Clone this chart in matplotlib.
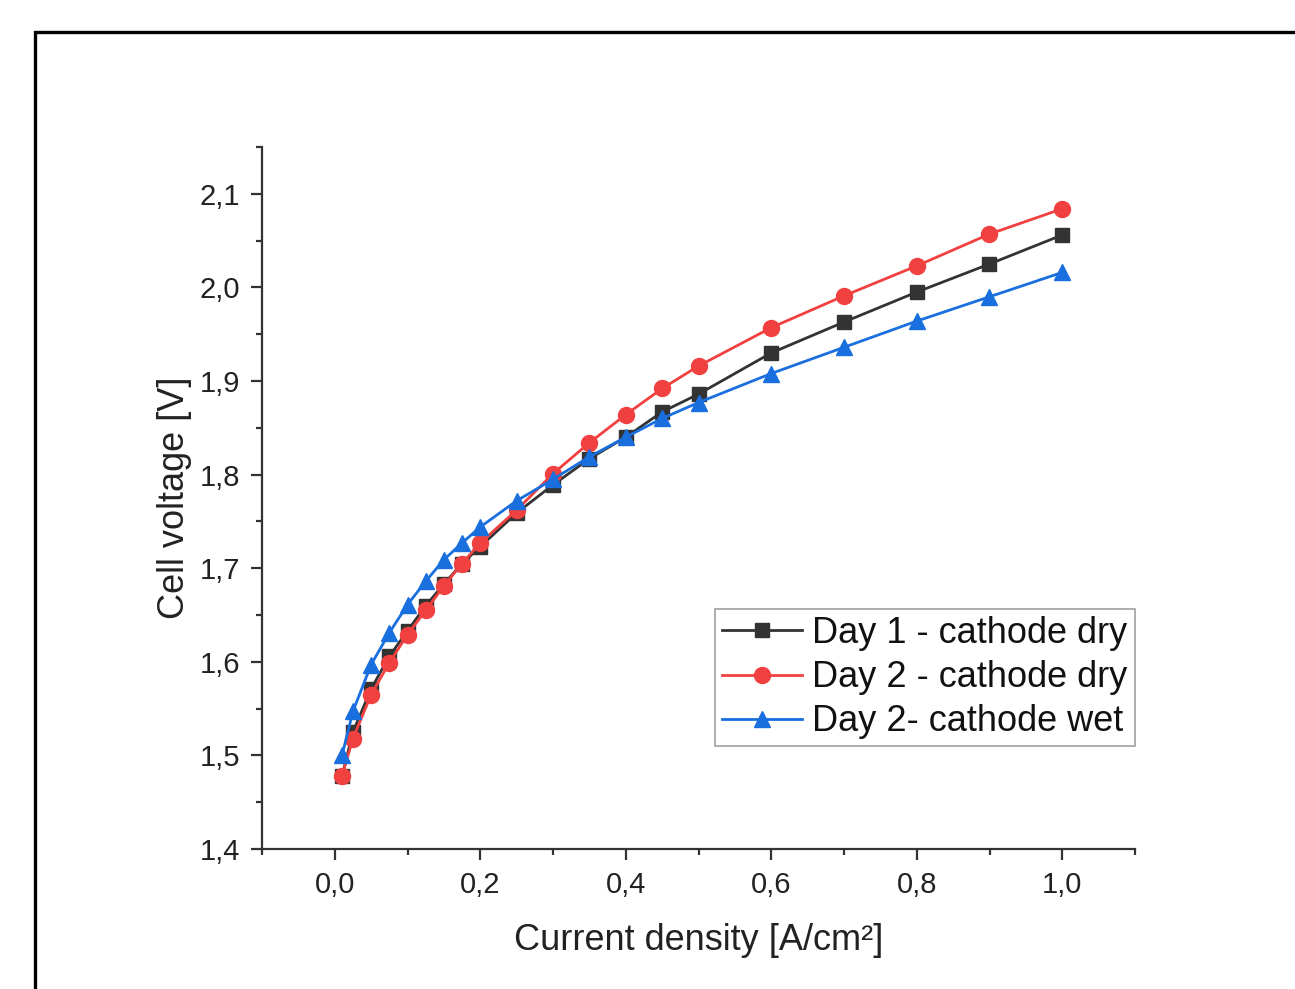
import matplotlib
matplotlib.use("Agg")
import matplotlib.pyplot as plt
from matplotlib.patches import Rectangle
from matplotlib.ticker import MultipleLocator, FuncFormatter

plt.rcParams["font.family"] = ["Liberation Sans", "DejaVu Sans"]

# ── Données ──────────────────────────────────────────────────────────────────
current = [0.01, 0.025, 0.05, 0.075, 0.1, 0.125, 0.15, 0.175, 0.2, 0.25,
           0.3, 0.35, 0.4, 0.45, 0.5, 0.6, 0.7, 0.8, 0.9, 1.0]

day1_dry = [1.478, 1.525, 1.571, 1.606, 1.633, 1.660, 1.683, 1.705, 1.723, 1.759,
            1.789, 1.817, 1.840, 1.867, 1.886, 1.930, 1.963, 1.995, 2.025, 2.056]

day2_dry = [1.478, 1.518, 1.565, 1.599, 1.629, 1.655, 1.681, 1.705, 1.727, 1.762,
            1.801, 1.834, 1.864, 1.892, 1.916, 1.957, 1.991, 2.023, 2.057, 2.084]

day2_wet = [1.500, 1.547, 1.597, 1.631, 1.661, 1.686, 1.709, 1.727, 1.744, 1.772,
            1.795, 1.819, 1.840, 1.860, 1.877, 1.908, 1.936, 1.964, 1.990, 2.016]

labels = ["Day 1 - cathode dry", "Day 2 - cathode dry", "Day 2- cathode wet"]

# ── Figure ───────────────────────────────────────────────────────────────────
W, H = 1295, 989
fig = plt.figure(figsize=(W / 100, H / 100), dpi=100)
fig.patch.set_facecolor("white")

# cadre extérieur (coupé à droite et en bas)
fig.add_artist(Rectangle((35 / W, -0.2), 1.2, 1 - 32 / H + 0.2,
                         transform=fig.transFigure, fill=False,
                         edgecolor="black", linewidth=2.4))

ax = fig.add_axes([262 / W, 1 - 849 / H, (1135 - 262) / W, (849 - 147) / H])

ax.plot(current, day1_dry, color="#333333", marker="s", markersize=10.5,
        linewidth=2, label=labels[0], zorder=3)
ax.plot(current, day2_dry, color="#F14040", marker="o", markersize=11.5,
        linewidth=2, label=labels[1], zorder=4)
ax.plot(current, day2_wet, color="#1A6FDF", marker="^", markersize=11.5,
        linewidth=2, label=labels[2], zorder=5)

ax.set_xlim(-0.1, 1.1)
ax.set_ylim(1.4, 2.15)

ax.xaxis.set_major_locator(MultipleLocator(0.2))
ax.xaxis.set_minor_locator(MultipleLocator(0.1))
ax.yaxis.set_major_locator(MultipleLocator(0.1))
ax.yaxis.set_minor_locator(MultipleLocator(0.05))

comma = FuncFormatter(lambda v, pos: f"{v:.1f}".replace(".", ","))
ax.xaxis.set_major_formatter(comma)
ax.yaxis.set_major_formatter(comma)

for side in ["top", "right"]:
    ax.spines[side].set_visible(False)
for side in ["left", "bottom"]:
    ax.spines[side].set_linewidth(1.6)
    ax.spines[side].set_color("#333333")

ax.tick_params(which="major", direction="out", length=8, width=1.6,
               color="#333333", labelsize=21, labelcolor="#222222", pad=8)
ax.tick_params(which="minor", direction="out", length=4.5, width=1.6,
               color="#333333")

ax.set_xlabel("Current density [A/cm²]", fontsize=26, color="#222222", labelpad=17)
ax.set_ylabel("Cell voltage [V]", fontsize=26, color="#222222", labelpad=5)

leg = ax.legend(loc="upper right", bbox_to_anchor=(1.0, 0.342), borderaxespad=0,
                fontsize=26, fancybox=False, edgecolor="#888888",
                handlelength=2.2, handletextpad=0.3, labelspacing=0.25,
                borderpad=0.2)
leg.get_frame().set_linewidth(1.2)
for t in leg.get_texts():
    t.set_color("#111111")

fig.savefig("out.png", dpi=100)
